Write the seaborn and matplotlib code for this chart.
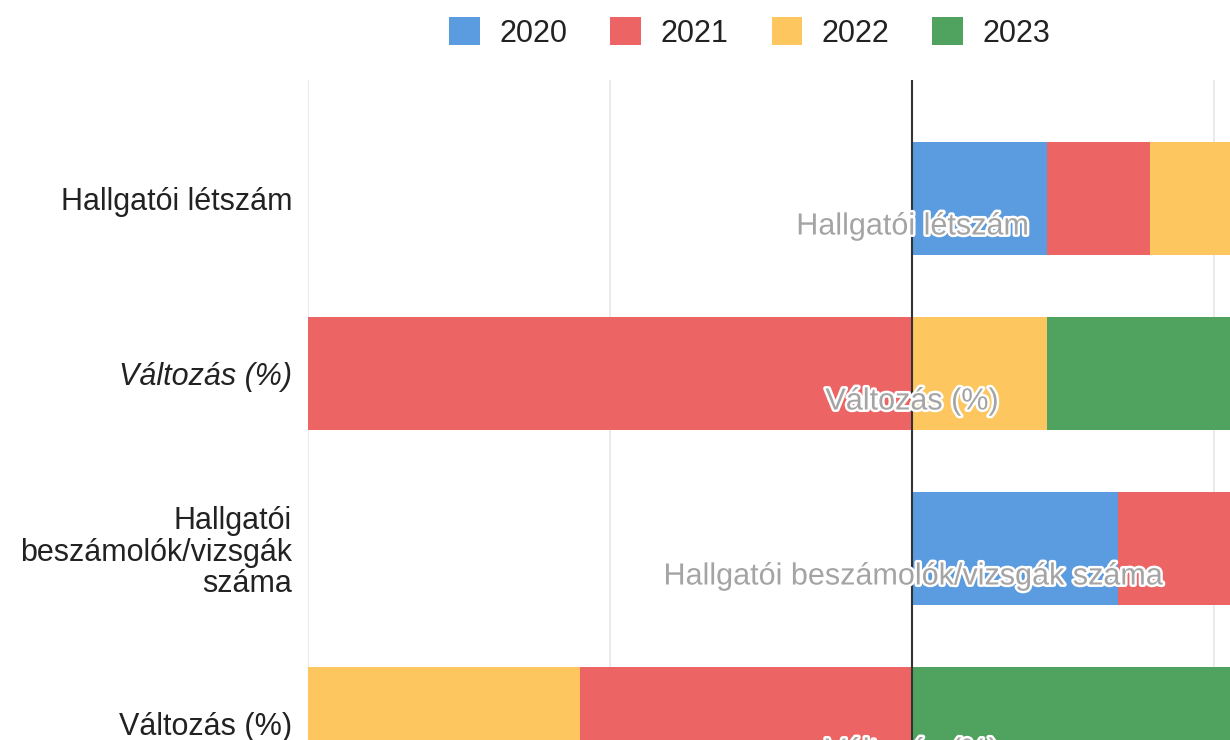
import numpy as np
import pandas as pd
import matplotlib
matplotlib.use("Agg")
import matplotlib.pyplot as plt
import matplotlib.patheffects as pe
from matplotlib.patches import Patch
import seaborn as sns

# ---- data (units = 1/10 of a gridline step) ----
categories = ["Hallgatói létszám", "Változás (%)",
              "Hallgatói\nbeszámolók/vizsgák\nszáma", "Változás (%)"]
annotations = ["Hallgatói létszám", "Változás (%)",
               "Hallgatói beszámolók/vizsgák száma", "Változás (%)"]
years = ["2020", "2021", "2022", "2023"]
v2020 = [4.47, 0.0, 6.82, 0.0]
v2021 = [3.41, -20.0, 4.5, -11.0]
v2022 = [3.5, 4.47, 2.0, -9.0]
v2023 = [3.0, 7.5, 2.0, 12.0]
colors = ["#5b9bdf", "#ed6464", "#fdc65f", "#50a35f"]

sns.set_theme(style="white")
plt.rcParams["font.family"] = ["Liberation Sans", "DejaVu Sans"]

fig = plt.figure(figsize=(12.3, 7.4), dpi=100)
W, H = 1230, 740
ax = fig.add_axes([308 / W, 0, 1 - 308 / W, 1 - 80 / H])

series = np.array([v2020, v2021, v2022, v2023])
pos_cum = np.cumsum(np.clip(series, 0, None), axis=0)
neg_cum = np.cumsum(np.clip(series, None, 0), axis=0)
row_ids = [str(i) for i in range(len(categories))]

# draw cumulative bars from last series to first so earlier ones overlay
for k in range(len(years) - 1, -1, -1):
    for cum in (pos_cum[k], neg_cum[k]):
        df = pd.DataFrame({"row": row_ids, "val": cum})
        sns.barplot(data=df, x="val", y="row", order=row_ids, orient="h",
                    color=colors[k], saturation=1, width=0.646,
                    linewidth=0, ax=ax)

# gridlines
for gx in [-20, -10, 10]:
    ax.axvline(gx, color="#e6e6e6", lw=1.2, zorder=0)
ax.axvline(0, color="#333333", lw=1.5, zorder=5)

ax.set_xlim(-20, (1230 - 912) / 302 * 10)
ax.set_ylim((740 - 198.5) / 175, -(198.5 - 80) / 175)
for s in ax.spines.values():
    s.set_visible(False)
ax.set_xticks([])
ax.set_xlabel("")
ax.set_ylabel("")
ax.set_yticks(range(len(categories)))
ax.set_yticklabels(categories, fontsize=22, color="#222222", ha="right",
                   multialignment="right", linespacing=1.05)
ax.tick_params(axis="y", length=0, pad=11.5)
ax.get_yticklabels()[1].set_fontstyle("italic")

for i, txt in enumerate(annotations):
    ax.text(0, i + 0.16, txt, ha="center", va="center", fontsize=22,
            color="#a4a4a4", zorder=10, clip_on=False,
            path_effects=[pe.withStroke(linewidth=3.5, foreground="white")])

handles = [Patch(facecolor=c, edgecolor="none", label=y) for c, y in zip(colors, years)]
fig.legend(handles=handles, loc="center", bbox_to_anchor=(750 / W, 1 - 33 / H),
           ncol=4, frameon=False, fontsize=22, handlelength=1.0,
           handleheight=1.0, handletextpad=0.65, columnspacing=1.4,
           labelcolor="#222222")

fig.savefig("out.png", dpi=100)
